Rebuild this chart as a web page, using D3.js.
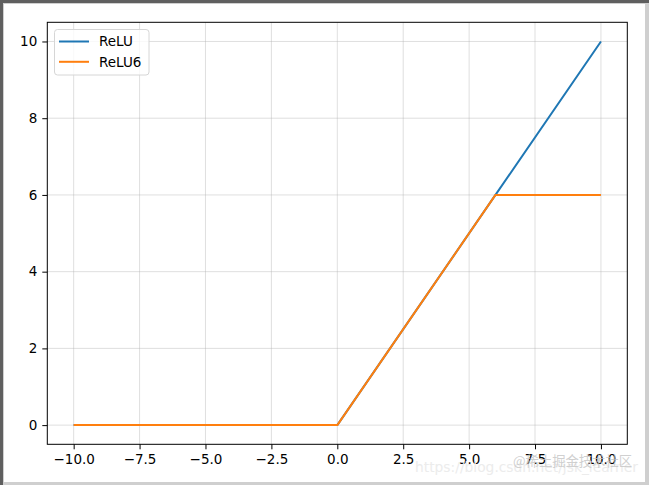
<!DOCTYPE html>
<html>
<head>
<meta charset="utf-8">
<script src="https://cdn.jsdelivr.net/npm/d3@7"></script>
<style>
  body { margin: 0; background: #fff; }
  text { font-family: "DejaVu Sans", sans-serif; }
</style>
</head>
<body>
<svg id="chart" width="649" height="485"></svg>
<script>
// data (break points of the two lines)
var xs = [-10, 0, 6, 10];
var relu = [0, 0, 6, 10];
var relu6 = [0, 0, 6, 6];
var xTicks = [-10, -7.5, -5, -2.5, 0, 2.5, 5, 7.5, 10];
var yTicks = [0, 2, 4, 6, 8, 10];
var seriesNames = ["ReLU", "ReLU6"];
var colors = ["#1f77b4", "#ff7f0e"];

var svg = d3.select("#chart"),
    width = +svg.attr("width"),
    height = +svg.attr("height");

// window frame
svg.append("rect").attr("width", width).attr("height", height).attr("fill", "#5f5f5f");
svg.append("rect").attr("x", 3).attr("y", 3).attr("width", width - 3).attr("height", height - 3).attr("fill", "#cfcfcf");
svg.append("rect").attr("x", 4).attr("y", 4).attr("width", width - 8).attr("height", height - 7).attr("fill", "#fff");

var pLeft = 47.3, pRight = 627.3, pTop = 22.3, pBottom = 444.3;
var x = d3.scaleLinear().domain([-11, 11]).range([pLeft, pRight]);
var y = d3.scaleLinear().domain([-0.5, 10.5]).range([pBottom, pTop]);

// grid
svg.append("g").selectAll("line").data(xTicks).enter().append("line")
  .attr("x1", function(d){ return x(d); }).attr("x2", function(d){ return x(d); })
  .attr("y1", pTop).attr("y2", pBottom)
  .attr("stroke", "#b0b0b0").attr("stroke-opacity", 0.5).attr("stroke-width", 0.8);
svg.append("g").selectAll("line").data(yTicks).enter().append("line")
  .attr("y1", function(d){ return y(d); }).attr("y2", function(d){ return y(d); })
  .attr("x1", pLeft).attr("x2", pRight)
  .attr("stroke", "#b0b0b0").attr("stroke-opacity", 0.5).attr("stroke-width", 0.8);

// axes
var xAxis = svg.append("g").attr("transform", "translate(0," + pBottom + ")")
  .call(d3.axisBottom(x).tickValues(xTicks).tickSize(5).tickPadding(5)
    .tickFormat(function(d){ return d3.format(".1f")(d).replace("-", "\u2212"); }));
var yAxis = svg.append("g").attr("transform", "translate(" + pLeft + ",0)")
  .call(d3.axisLeft(y).tickValues(yTicks).tickSize(5).tickPadding(5).tickFormat(d3.format("d")));
[xAxis, yAxis].forEach(function(a){
  a.select(".domain").remove();
  a.selectAll("line").attr("stroke", "#000").attr("stroke-width", 1);
  a.selectAll("text").attr("fill", "#000").style("font-size", "13.5px").style("font-family", "DejaVu Sans");
});

// lines
var line = d3.line()
  .x(function(d){ return x(d[0]); })
  .y(function(d){ return y(d[1]); });
[relu, relu6].forEach(function(s, i){
  svg.append("path")
    .datum(xs.map(function(v, j){ return [v, s[j]]; }))
    .attr("fill", "none")
    .attr("stroke", colors[i])
    .attr("stroke-width", 2)
    .attr("stroke-linejoin", "round")
    .attr("d", line);
});

// frame of axes
svg.append("rect").attr("x", pLeft).attr("y", pTop)
  .attr("width", pRight - pLeft).attr("height", pBottom - pTop)
  .attr("fill", "none").attr("stroke", "#000").attr("stroke-width", 1);

// legend
var lg = svg.append("g");
lg.append("rect").attr("x", 54.5).attr("y", 29.5).attr("width", 94.5).attr("height", 45.5)
  .attr("rx", 3).attr("fill", "#fff").attr("fill-opacity", 0.8)
  .attr("stroke", "#d6d6d6").attr("stroke-width", 1);
seriesNames.forEach(function(n, i){
  var ly = 41.5 + i * 20.3;
  lg.append("line").attr("x1", 59).attr("x2", 89).attr("y1", ly).attr("y2", ly)
    .attr("stroke", colors[i]).attr("stroke-width", 2);
  lg.append("text").attr("x", 99).attr("y", ly).attr("dy", "0.36em")
    .style("font-size", "13.5px").attr("fill", "#000").text(n);
});

// faint watermark
svg.append("text").attr("x", 415).attr("y", 472).style("font-size", "13.5px")
  .attr("textLength", 223).attr("lengthAdjust", "spacingAndGlyphs")
  .attr("fill", "#ececec").text("https://blog.csdn.net/jsk_learner");
svg.append("text").attr("x", 513).attr("y", 466).style("font-size", "13.5px")
  .attr("textLength", 119).attr("lengthAdjust", "spacingAndGlyphs")
  .style("font-family", "Noto Sans CJK SC").attr("fill", "#c4c4c4").attr("fill-opacity", 0.8)
  .text("@稀土掘金技术社区");
</script>
</body>
</html>
